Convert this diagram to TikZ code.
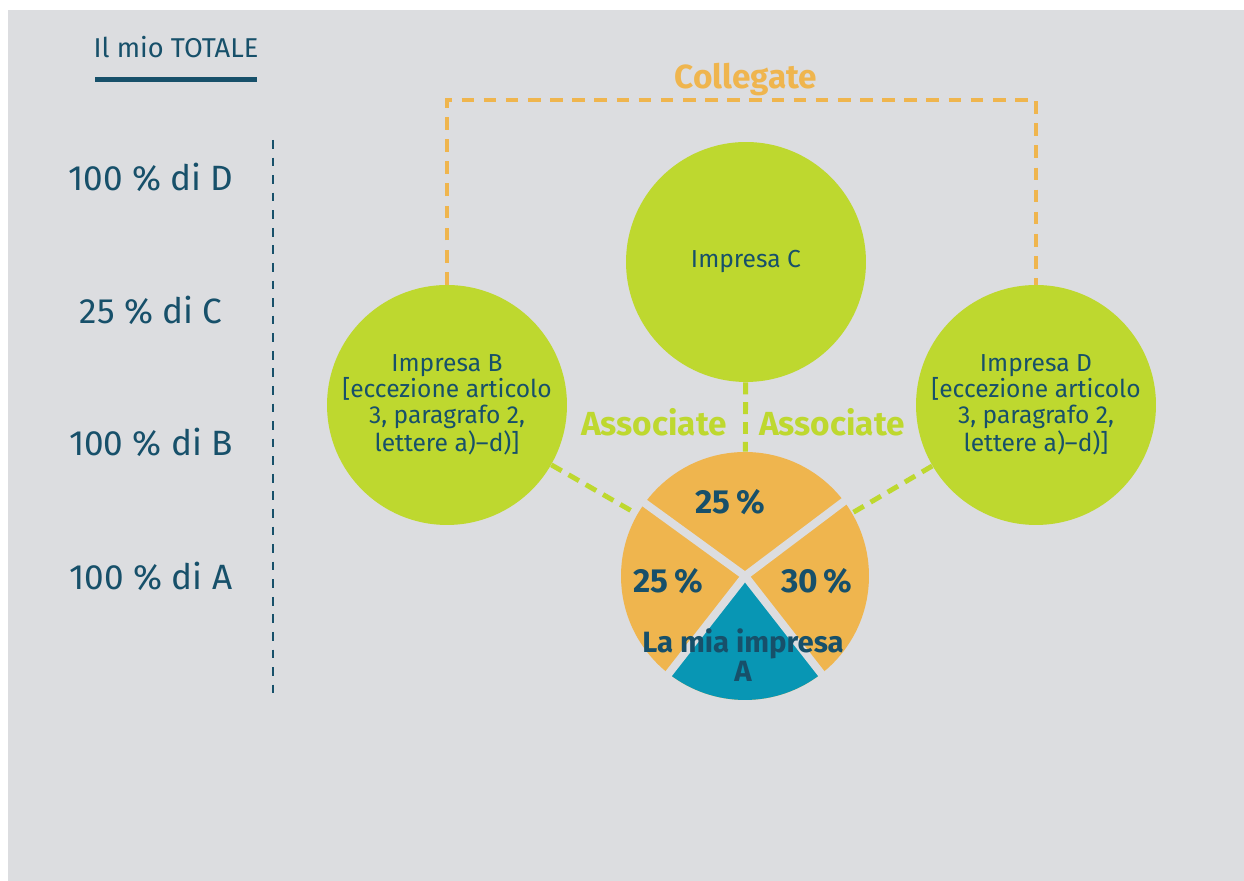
\documentclass[tikz,border=0pt]{standalone}
\usepackage{fontspec}
\setmainfont{Fira Sans}

\definecolor{eugrey}{HTML}{DCDDE0}
\definecolor{euteal}{HTML}{17506A}
\definecolor{eulime}{HTML}{BED82F}
\definecolor{euorange}{HTML}{EFB54E}
\definecolor{eublue}{HTML}{0896B4}

\tikzset{
  firm/.style     = {shape = circle, fill = eulime, minimum size = 4.8cm, inner sep = 0pt,
                     align = center, text = euteal, font = \fontsize{14}{14.7}\selectfont},
  share/.style    = {text = euteal, font = \fontsize{20}{23}\selectfont},
  pct/.style      = {text = euteal, font = \fontsize{19}{14}\selectfont\bfseries},
  linklabel/.style = {font = \fontsize{19}{22}\selectfont\bfseries},
  collegate/.style = {euorange, line width = 2.6pt, dash pattern = on 7.2pt off 5.4pt},
  associate/.style = {eulime, line width = 2.8pt, dash pattern = on 6.8pt off 4.5pt},
}

\begin{document}
\begin{tikzpicture}[x = 0.02cm, y = 0.02cm]
        \fill[eugrey] (8, 0) rectangle (1244, 871);
        \useasboundingbox (0, 0) rectangle (1244, 881);

        % ------------------------------------------------------------------------
        % Left column
        \node[text = euteal, font = \fontsize{15.5}{18}\selectfont] at (176, 834) (total) {Il mio TOTALE};
        \coordinate (barL) at (95, 801);
        \coordinate (barR) at (257, 801);
        \draw[euteal, line width = 0.1cm] (barL) -- (barR);

        \coordinate (scaleTop) at (273, 741);
        \coordinate (scaleBot) at (273, 181);
        \draw[euteal, line width = 1.7pt, dash pattern = on 5pt off 5pt] (scaleTop) -- (scaleBot);

        \node[share] at (151, 704) (shareD) {100 \% di D};
        \node[share] at (151, 571) (shareC) {25 \% di C};
        \node[share] at (151, 439) (shareB) {100 \% di B};
        \node[share] at (151, 305) (shareA) {100 \% di A};

        % ------------------------------------------------------------------------
        % Firms
        \node[firm] at ( 447, 476) (B) {Impresa B\\{[}eccezione articolo\\3, paragrafo 2,\\lettere a)--d)]};
        \node[firm] at ( 746, 619) (C) {Impresa C};
        \node[firm] at (1036, 476) (D) {Impresa D\\{[}eccezione articolo\\3, paragrafo 2,\\lettere a)--d)]};

        \node[shape = circle, minimum size = 4.96cm, inner sep = 0pt] at (745, 305) (A) {};

        \fill[euorange] (A.center) circle[radius = 2.48cm];
        \fill[eublue] (A.center) -- ++(232:2.48cm) arc[start angle = 232, end angle = 308, radius = 2.48cm] -- cycle;
        \foreach \a in {37, 144, 232, 308}
          \draw[eugrey, line width = 4.5pt] (A.center) -- ++(\a:2.6cm);

        \node[pct] at (730, 379) (pTop)   {25\,\%};
        \node[pct] at (668, 300) (pLeft)  {25\,\%};
        \node[pct] at (817, 300) (pRight) {30\,\%};
        \node[pct, align = center, font = \fontsize{16.7}{14}\selectfont\bfseries] at (743, 226) (me) {La mia impresa\\A};

        % ------------------------------------------------------------------------
        % Links
        \coordinate (top) at (746, 781);
        \draw[collegate] (B.north) |- (top) -| (D.north);
        \node[linklabel, text = euorange] at (746, 801) (coll) {Collegate};

        \draw[associate]
          (B) edge (A)
          (C) edge (A)
          (D) edge (A)
        ;
        \node[linklabel, text = eulime] at (654, 459) (assL) {Associate};
        \node[linklabel, text = eulime] at (832, 459) (assR) {Associate};
      \end{tikzpicture}
\end{document}
